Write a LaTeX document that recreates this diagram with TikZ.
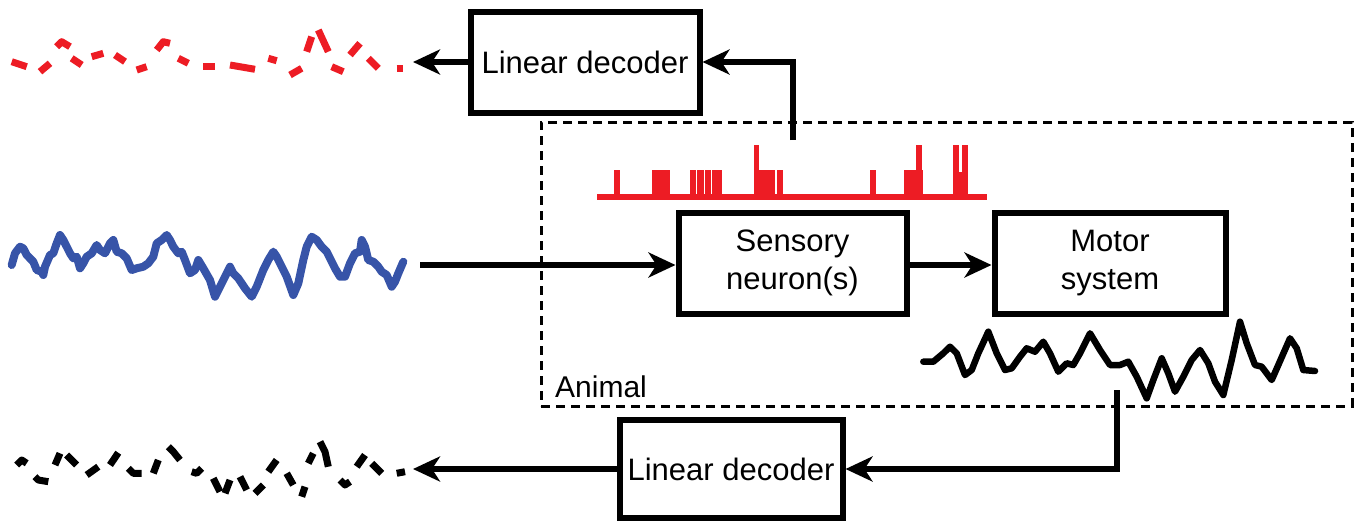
\documentclass[tikz,border=0pt]{standalone}
\usepackage{fontspec}
\setmainfont{Liberation Sans}
\usetikzlibrary{arrows.meta}
\definecolor{sigred}{RGB}{237,28,36}
\definecolor{sigblue}{RGB}{55,84,168}
\begin{document}
\begin{tikzpicture}[x=1pt,y=-1pt,
  blk/.style={draw,line width=6pt,minimum width=#1,minimum height=101pt,inner sep=0pt,align=center,font=\fontsize{31}{38}\selectfont},
  arr/.style={line width=5.5pt,-{Stealth[length=27pt,width=25pt,inset=8pt]}},
  dsh/.style={line width=7pt,line cap=butt,line join=round},
  sig/.style={line join=round,line cap=round}]
\useasboundingbox (0,0) rectangle (1360,523);

% boxes
\node[blk=229pt] (dec1) at (585,62) {Linear decoder};
\node[blk=228pt] (sens) at (792.5,263) {Sensory\\neuron(s)};
\node[blk=231pt] (motor) at (1110,263) {Motor\\system};
\node[blk=223pt,minimum height=98pt] (dec2) at (731,469) {Linear decoder};
\node[draw,line width=3pt,dash pattern=on 9pt off 6pt,minimum width=811pt,minimum height=284pt,inner sep=0pt] (animal) at (946.5,264) {};
\node[anchor=base west,inner sep=0pt,font=\fontsize{30}{36}\selectfont] (alab) at (555,397) {Animal};

% coordinates for connector ends
\coordinate (bin) at (420,265);
\coordinate (sp) at (793,140);
\coordinate (redend) at (413,62);
\coordinate (ms) at (1117,390);
\coordinate (bkend) at (413,469);

% connectors
\draw[arr] (bin) -- (bin -| sens.west);
\draw[arr] (sens.east |- bin) -- (motor.west |- bin);
\draw[arr] (sp) |- (dec1.east);
\draw[arr] (dec1.west) -- (redend);
\draw[arr] (ms) |- (dec2.east);
\draw[arr] (dec2.west) -- (bkend);

% spike train
\begin{scope}[sigred]
\draw[line width=6pt] (597,197) -- (987,197);
\fill (614,170) rectangle (620,197);
\fill (652,170) rectangle (670,197);
\fill (690,170) rectangle (695.5,197);
\fill (697,170) rectangle (703.5,197);
\fill (705,170) rectangle (710.5,197);
\fill (712,170) rectangle (722,197);
\fill (753.5,145) rectangle (759,197);
\fill (759,170) rectangle (775,197);
\fill (777,170) rectangle (782.5,197);
\fill (869.5,170) rectangle (876,197);
\fill (904,170) rectangle (923,197);
\fill (916,145) rectangle (921.5,197);
\fill (953,145) rectangle (958.5,197);
\fill (957,172) rectangle (963,197);
\fill (962,145) rectangle (967.5,197);
\end{scope}

% blue stimulus
\draw[sig,sigblue,line width=8pt] (11.7,265)--(15,253.3)--(20,246.7)--(23.3,248.3)--(26.7,255)--(33.3,261.7)--(36.7,270)--(41.7,271.7)--(43.3,275)--(45,266.7)--(50,255)--(53.3,253.3)--(56.7,243.3)--(60,235)--(63.3,240)--(66.7,246.7)--(70,253.3)--(73.3,258.3)--(76.7,256.7)--(80,268.3)--(83.3,263.3)--(86.7,256.7)--(91.7,253.3)--(96.7,245)--(100,250)--(105,253.3)--(110,243.3)--(113.3,240)--(116.7,251.7)--(121.7,253.3)--(126.7,258.3)--(131.7,270)--(136.7,268.3)--(143.3,266.7)--(148.3,263.3)--(153.3,256.7)--(156.7,243.3)--(161.7,240)--(166.7,235)--(170,240)--(173.3,246.7)--(178.3,253.3)--(181.7,251.7)--(185,260)--(190,273.3)--(195,270)--(198.3,260)--(203.3,268.3)--(210,280)--(215,296.7)--(220,286.7)--(226.7,273.3)--(230,266.7)--(233.3,273.3)--(238.3,278.3)--(245,288.3)--(251.7,296.7)--(256.7,286.7)--(263.3,270)--(268.3,260)--(273.3,251.7)--(276.7,256.7)--(281.7,266.7)--(286.7,276.7)--(293.3,295)--(298.3,283.3)--(303.3,260)--(306.7,246.7)--(311.7,236.7)--(316.7,240)--(321.7,246.7)--(326.7,251.7)--(330,258.3)--(335,268.3)--(340,276.7)--(345,276.7)--(350,263.3)--(355,253.3)--(360,251.7)--(361.7,240)--(365,246.7)--(368.3,260)--(373.3,261.7)--(378.3,266.7)--(381.7,271.7)--(386.7,275)--(391.7,286.7)--(395,281.7)--(398.3,273.3)--(403.3,261.7);

% motor output
\draw[sig,line width=6.5pt] (923.3,361.7)--(933.3,361.7)--(943.3,353.3)--(950,346.7)--(956.7,353.3)--(965,375)--(971.7,370)--(978.3,353.3)--(988.3,331.7)--(996.7,353.3)--(1005,370)--(1011.7,368.3)--(1020,356.7)--(1026.7,348.3)--(1035,351.7)--(1043.3,341.7)--(1050,353.3)--(1058.3,371.7)--(1066.7,363.3)--(1073.3,365)--(1080,353.3)--(1090,333.3)--(1100,350)--(1110,365)--(1120,365)--(1128.3,361.7)--(1136.7,376.7)--(1146.7,398.3)--(1153.3,380)--(1161.7,358.3)--(1168.3,373.3)--(1175,391.7)--(1183.3,376.7)--(1191.7,360)--(1200,350)--(1208.3,363.3)--(1215,381.7)--(1223.3,395)--(1231.7,360)--(1240,321.7)--(1246.7,343.3)--(1255,365)--(1261.7,366.7)--(1271.7,380)--(1278.3,365)--(1290,338.3)--(1296.7,348.3)--(1303.3,370)--(1315,371);

% red decoded (dashed)
\begin{scope}[dsh,sigred]
\draw (11.7,61.7)--(26.7,66.7);
\draw (40,71.7)--(50,63.3);
\draw (56.7,46.7)--(61.7,41.7)--(70,46.7);
\draw (71.7,58.3)--(81.7,65);
\draw (91.7,56.7)--(103.3,53.3);
\draw (115,55)--(125,61.7);
\draw (136.7,70)--(146.7,66.7);
\draw (156.7,50)--(163.3,41.7)--(170,43.3);
\draw (178.3,58.3)--(188.3,63.3);
\draw (203.3,66.7)--(215,66.7);
\draw (230,65)--(255,69.3);
\draw (268.3,58.3)--(276.7,60.7);
\draw (290,75)--(301.7,68.3);
\draw (306.7,51.7)--(311.7,36.7);
\draw (318.3,30)--(328.3,51.7);
\draw (331.7,66.7)--(343.3,71.7);
\draw (350,55)--(360,43.3);
\draw (368.3,58.3)--(378.3,68.3);
\draw (396.7,68.3)--(403.3,68.3);
\end{scope}

% black decoded (dashed)
\begin{scope}[dsh]
\draw (16.7,465)--(21.7,460)--(26.7,463.3);
\draw (35,476.7)--(38.3,480)--(48.3,481.7);
\draw (55,465)--(60,453.3);
\draw (66.7,455)--(76.7,465);
\draw (86.7,475)--(98.3,466.7);
\draw (110,465)--(118.3,452.7);
\draw (128.3,468.3)--(133.3,473.3)--(141.7,473.3);
\draw (153.3,473.3)--(158.3,460);
\draw (168.3,446.7)--(173.3,451.7)--(180,460);
\draw (191.7,471.7)--(196.7,473.3)--(201.7,468.3);
\draw (213.3,478.3)--(220,491.7);
\draw (225,493.3)--(230,480);
\draw (240,476.7)--(246.7,490);
\draw (255,493.3)--(263.3,485);
\draw (268.3,471.7)--(276.7,460);
\draw (286.7,473.3)--(293.3,485);
\draw (301.7,496.7)--(305,486.7);
\draw (308.3,463.3)--(313.3,453.3);
\draw (320,441.7)--(325,451.7)--(328.3,466.7);
\draw (340,480)--(345,485)--(350,481.7);
\draw (356.7,466.7)--(365,455);
\draw (371.7,463.3)--(381.7,473.3);
\draw (396.7,473.3)--(405,471.7);
\end{scope}
\end{tikzpicture}
\end{document}
